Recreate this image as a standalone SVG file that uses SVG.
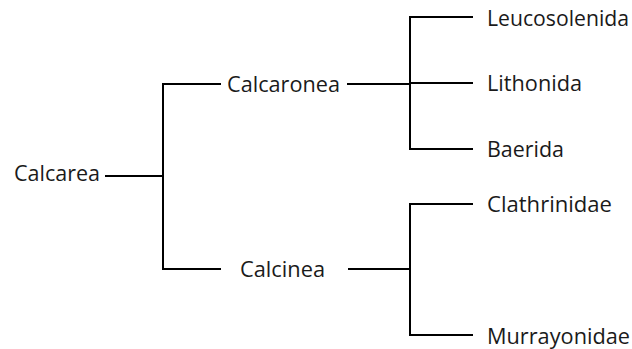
<svg xmlns="http://www.w3.org/2000/svg" width="632" height="349" viewBox="0 0 632 349">
<style>
.t{font-family:"Open Sans","Noto Sans","Liberation Sans",sans-serif;font-size:21px;fill:#1a1a1a}
.c line{stroke:#000;stroke-width:2;stroke-linecap:square}
</style>
<rect width="632" height="349" fill="#fff"/>
<g class="c" id="connectors">
<line x1="106" y1="176" x2="163" y2="176"/>
<line x1="163" y1="84" x2="163" y2="269"/>
<line x1="163" y1="84" x2="220" y2="84"/>
<line x1="163" y1="269" x2="220" y2="269"/>
<line x1="348" y1="84" x2="410" y2="84"/>
<line x1="410" y1="17" x2="410" y2="149"/>
<line x1="410" y1="17" x2="472" y2="17"/>
<line x1="410" y1="83" x2="472" y2="83"/>
<line x1="410" y1="149" x2="472" y2="149"/>
<line x1="349" y1="269" x2="410" y2="269"/>
<line x1="410" y1="204" x2="410" y2="335"/>
<line x1="410" y1="204" x2="472" y2="204"/>
<line x1="410" y1="335" x2="472" y2="335"/>
</g>
<g id="calcarea"><text class="t" x="14" y="181" textLength="86" lengthAdjust="spacingAndGlyphs">Calcarea</text></g>
<g id="calcaronea"><text class="t" x="227" y="92" textLength="113" lengthAdjust="spacingAndGlyphs">Calcaronea</text></g>
<g id="calcinea"><text class="t" x="240" y="277" textLength="85" lengthAdjust="spacingAndGlyphs">Calcinea</text></g>
<g id="leucosolenida"><text class="t" x="487" y="26" textLength="142" lengthAdjust="spacingAndGlyphs">Leucosolenida</text></g>
<g id="lithonida"><text class="t" x="487" y="91" textLength="95" lengthAdjust="spacingAndGlyphs">Lithonida</text></g>
<g id="baerida"><text class="t" x="487" y="157" textLength="77" lengthAdjust="spacingAndGlyphs">Baerida</text></g>
<g id="clathrinidae"><text class="t" x="487" y="212" textLength="125" lengthAdjust="spacingAndGlyphs">Clathrinidae</text></g>
<g id="murrayonidae"><text class="t" x="487" y="344" textLength="143" lengthAdjust="spacingAndGlyphs">Murrayonidae</text></g>
</svg>
